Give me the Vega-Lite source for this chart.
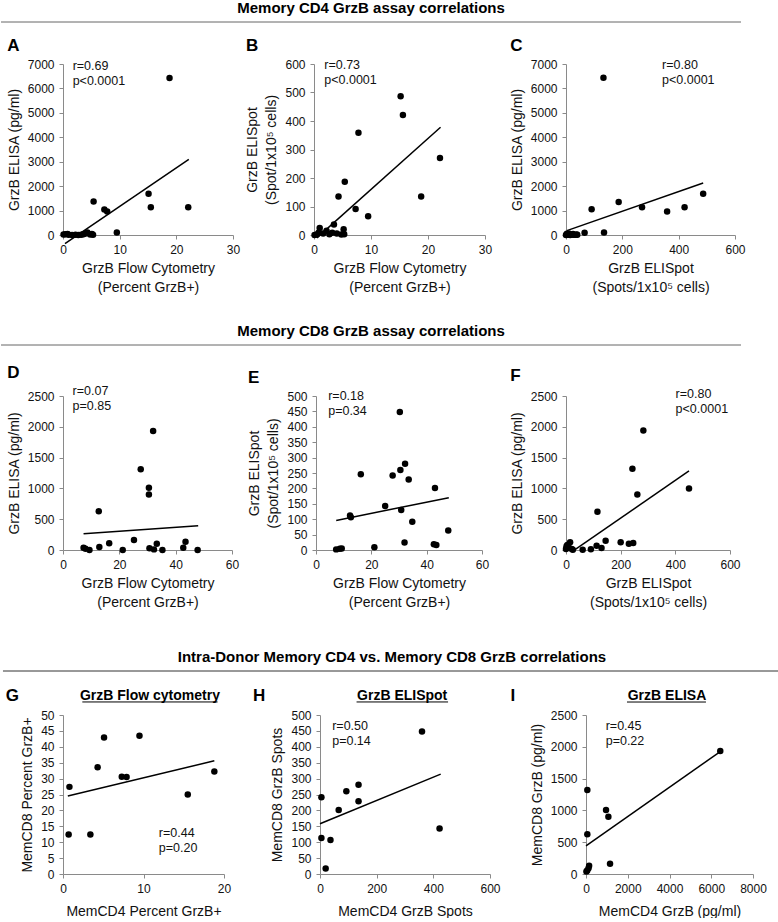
{
"$schema":"https://vega.github.io/schema/vega-lite/v6.json",
"padding":{"left":0,"top":1,"right":0,"bottom":0},
"autosize":{"type":"pad"},
"config":{
 "font":"Liberation Sans",
 "view":{"stroke":null},
 "axis":{"grid":false,"domainColor":"#8a8a8a","tickColor":"#8a8a8a","tickSize":4,"labelFontSize":12,"labelColor":"#111","labelPadding":5,"labelFlush":false,"labelOverlap":false,"titleFontSize":14,"titleFontWeight":"normal","titleColor":"#111","titlePadding":6,"titleLineHeight":19,"labelFont":"Liberation Sans","titleFont":"Liberation Sans"},
 "title":{"font":"Liberation Sans","color":"black"},
 "text":{"font":"Liberation Sans","color":"#111"}
},
"datasets":{
 "pts":[
  {"p":"A","x":18.8,"y":6430},{"p":"A","x":15.1,"y":1690},{"p":"A","x":15.5,"y":1140},{"p":"A","x":22.1,"y":1140},{"p":"A","x":5.4,"y":1370},{"p":"A","x":7.3,"y":1040},{"p":"A","x":7.8,"y":960},{"p":"A","x":9.5,"y":100},{"p":"A","x":0.1,"y":20},{"p":"A","x":0.4,"y":30},{"p":"A","x":0.8,"y":40},{"p":"A","x":1.0,"y":10},{"p":"A","x":1.6,"y":0},{"p":"A","x":2.2,"y":10},{"p":"A","x":2.7,"y":0},{"p":"A","x":3.2,"y":10},{"p":"A","x":3.6,"y":30},{"p":"A","x":4.0,"y":60},{"p":"A","x":4.3,"y":100},{"p":"A","x":4.8,"y":20},{"p":"A","x":5.1,"y":40},{"p":"A","x":5.3,"y":10},
  {"p":"B","x":15.2,"y":487},{"p":"B","x":15.6,"y":421},{"p":"B","x":7.8,"y":359},{"p":"B","x":22.1,"y":270},{"p":"B","x":18.8,"y":135},{"p":"B","x":5.4,"y":187},{"p":"B","x":4.3,"y":135},{"p":"B","x":7.3,"y":91},{"p":"B","x":9.5,"y":66},{"p":"B","x":3.5,"y":37},{"p":"B","x":1.0,"y":25},{"p":"B","x":5.2,"y":20},{"p":"B","x":0.1,"y":0},{"p":"B","x":0.5,"y":2},{"p":"B","x":0.8,"y":8},{"p":"B","x":1.6,"y":5},{"p":"B","x":2.2,"y":15},{"p":"B","x":2.7,"y":3},{"p":"B","x":3.2,"y":8},{"p":"B","x":4.0,"y":5},{"p":"B","x":4.8,"y":2},{"p":"B","x":5.3,"y":3},
  {"p":"C","x":133,"y":6440},{"p":"C","x":487,"y":1690},{"p":"C","x":421,"y":1140},{"p":"C","x":270,"y":1140},{"p":"C","x":359,"y":960},{"p":"C","x":187,"y":1350},{"p":"C","x":91,"y":1050},{"p":"C","x":135,"y":100},{"p":"C","x":66,"y":90},{"p":"C","x":37,"y":20},{"p":"C","x":25,"y":40},{"p":"C","x":20,"y":10},{"p":"C","x":10,"y":60},{"p":"C","x":0,"y":0},{"p":"C","x":5,"y":20},{"p":"C","x":15,"y":0},{"p":"C","x":30,"y":5},{"p":"C","x":3,"y":50},{"p":"C","x":8,"y":5},{"p":"C","x":40,"y":10},
  {"p":"D","x":32,"y":1930},{"p":"D","x":27.6,"y":1310},{"p":"D","x":30.5,"y":1010},{"p":"D","x":30.5,"y":900},{"p":"D","x":12.7,"y":630},{"p":"D","x":7.3,"y":38},{"p":"D","x":8.0,"y":20},{"p":"D","x":9.4,"y":0},{"p":"D","x":12.9,"y":48},{"p":"D","x":16.4,"y":108},{"p":"D","x":21.2,"y":0},{"p":"D","x":25.2,"y":161},{"p":"D","x":30.7,"y":27},{"p":"D","x":33.3,"y":102},{"p":"D","x":32.3,"y":10},{"p":"D","x":35.3,"y":0},{"p":"D","x":42.7,"y":38},{"p":"D","x":43.5,"y":134},{"p":"D","x":47.8,"y":0},
  {"p":"E","x":30.3,"y":448},{"p":"E","x":32.2,"y":280},{"p":"E","x":30.5,"y":260},{"p":"E","x":27.7,"y":242},{"p":"E","x":16.2,"y":246},{"p":"E","x":33.5,"y":229},{"p":"E","x":43,"y":201},{"p":"E","x":25,"y":143},{"p":"E","x":12.3,"y":112},{"p":"E","x":12.6,"y":106},{"p":"E","x":30.8,"y":130},{"p":"E","x":34.8,"y":92},{"p":"E","x":47.8,"y":63},{"p":"E","x":32,"y":24},{"p":"E","x":42.6,"y":19},{"p":"E","x":43.5,"y":16},{"p":"E","x":21.1,"y":9},{"p":"E","x":7.3,"y":2},{"p":"E","x":8.6,"y":4},{"p":"E","x":9.3,"y":5},
  {"p":"F","x":0,"y":16},{"p":"F","x":2,"y":60},{"p":"F","x":5,"y":80},{"p":"F","x":10,"y":40},{"p":"F","x":15,"y":124},{"p":"F","x":21,"y":16},{"p":"F","x":25,"y":5},{"p":"F","x":61,"y":5},{"p":"F","x":91,"y":11},{"p":"F","x":112,"y":70},{"p":"F","x":130,"y":32},{"p":"F","x":145,"y":150},{"p":"F","x":200,"y":124},{"p":"F","x":230,"y":100},{"p":"F","x":246,"y":115},{"p":"F","x":115,"y":620},{"p":"F","x":243,"y":1320},{"p":"F","x":283,"y":1940},{"p":"F","x":261,"y":900},{"p":"F","x":450,"y":1000},
  {"p":"G","x":0.8,"y":27.4},{"p":"G","x":0.7,"y":12.4},{"p":"G","x":3.4,"y":12.4},{"p":"G","x":4.3,"y":33.6},{"p":"G","x":5.1,"y":42.9},{"p":"G","x":9.5,"y":43.5},{"p":"G","x":7.3,"y":30.6},{"p":"G","x":7.9,"y":30.5},{"p":"G","x":15.5,"y":25},{"p":"G","x":18.8,"y":32.2},
  {"p":"H","x":360,"y":448},{"p":"H","x":136,"y":281},{"p":"H","x":93,"y":260},{"p":"H","x":136,"y":229},{"p":"H","x":66,"y":201},{"p":"H","x":5,"y":241},{"p":"H","x":5,"y":113},{"p":"H","x":37,"y":107},{"p":"H","x":20,"y":17},{"p":"H","x":422,"y":143},
  {"p":"I","x":6432,"y":1933},{"p":"I","x":64,"y":1320},{"p":"I","x":64,"y":624},{"p":"I","x":960,"y":1005},{"p":"I","x":1072,"y":900},{"p":"I","x":1152,"y":160},{"p":"I","x":150,"y":130},{"p":"I","x":120,"y":90},{"p":"I","x":60,"y":55},{"p":"I","x":20,"y":40}
 ],
 "fit":[
  {"p":"A","x":0.35,"y":-354},{"p":"A","x":22.2,"y":3100},
  {"p":"B","x":0.5,"y":-10},{"p":"B","x":22.2,"y":378},
  {"p":"C","x":3,"y":180},{"p":"C","x":487,"y":2130},
  {"p":"D","x":7.3,"y":265},{"p":"D","x":48,"y":392},
  {"p":"E","x":7.3,"y":96},{"p":"E","x":48,"y":170},
  {"p":"F","x":25,"y":-20},{"p":"F","x":450,"y":1285},
  {"p":"G","x":0.6,"y":24.5},{"p":"G","x":18.8,"y":35.6},
  {"p":"H","x":0,"y":158},{"p":"H","x":426,"y":314},
  {"p":"I","x":0,"y":443},{"p":"I","x":6432,"y":1925}
 ]
},
"concat":[
 {"concat":[
  {"concat":[
   {"width":678,"height":1,"data":{"values":[{}]},
    "title":{"text":"Memory CD4 GrzB assay correlations","fontSize":15,"fontWeight":"bold","anchor":"middle","frame":"bounds","offset":5},
    "mark":{"type":"rule","color":"#666","strokeWidth":1},
    "encoding":{"x":{"datum":-0.0914,"type":"quantitative","scale":{"domain":[0,1]},"axis":null},"x2":{"datum":1},"y":{"datum":0,"type":"quantitative","scale":{"domain":[0,1]},"axis":null}}},
   {"hconcat":[
    {"width":170,"height":171,
     "title":{"text":"A","anchor":"start","frame":"bounds","fontSize":17,"fontWeight":"bold","offset":3},
     "layer":[
      {"data":{"name":"fit"},"transform":[{"filter":"datum.p==='A'"}],"mark":{"type":"line","color":"black","strokeWidth":1.5},
       "encoding":{"x":{"field":"x","type":"quantitative","scale":{"domain":[0,30],"nice":false},"axis":{"values":[0,10,20,30],"format":"d","title":["GrzB Flow Cytometry","(Percent GrzB+)"]}},
                   "y":{"field":"y","type":"quantitative","scale":{"domain":[0,7000],"nice":false},"axis":{"values":[0,1000,2000,3000,4000,5000,6000,7000],"format":"d","title":"GrzB ELISA (pg/ml)"}}}},
      {"data":{"name":"pts"},"transform":[{"filter":"datum.p==='A'"}],"mark":{"type":"circle","size":42,"color":"black","opacity":1},
       "encoding":{"x":{"field":"x","type":"quantitative","axis":{"values":[0,10,20,30],"format":"d","title":["GrzB Flow Cytometry","(Percent GrzB+)"]}},
                   "y":{"field":"y","type":"quantitative","axis":{"values":[0,1000,2000,3000,4000,5000,6000,7000],"format":"d","title":"GrzB ELISA (pg/ml)"}}}},
      {"data":{"values":[{}]},"mark":{"type":"text","align":"left","baseline":"top","fontSize":12.5,"lineHeight":15},
       "encoding":{"x":{"datum":1.7,"type":"quantitative","axis":{"values":[0,10,20,30],"format":"d","title":["GrzB Flow Cytometry","(Percent GrzB+)"]}},
                   "y":{"datum":7160,"type":"quantitative","axis":{"values":[0,1000,2000,3000,4000,5000,6000,7000],"format":"d","title":"GrzB ELISA (pg/ml)"}},"text":{"value":["r=0.69","p<0.0001"]}}}
     ]},
    {"width":171,"height":171,
     "title":{"text":"B","anchor":"start","frame":"bounds","fontSize":17,"fontWeight":"bold","offset":3},
     "layer":[
      {"data":{"name":"fit"},"transform":[{"filter":"datum.p==='B'"}],"mark":{"type":"line","color":"black","strokeWidth":1.5},
       "encoding":{"x":{"field":"x","type":"quantitative","scale":{"domain":[0,30],"nice":false},"axis":{"values":[0,10,20,30],"format":"d","title":["GrzB Flow Cytometry","(Percent GrzB+)"]}},
                   "y":{"field":"y","type":"quantitative","scale":{"domain":[0,600],"nice":false},"axis":{"values":[0,100,200,300,400,500,600],"format":"d","title":["GrzB ELISpot","(Spot/1x10⁵ cells)"]}}}},
      {"data":{"name":"pts"},"transform":[{"filter":"datum.p==='B'"}],"mark":{"type":"circle","size":42,"color":"black","opacity":1},
       "encoding":{"x":{"field":"x","type":"quantitative","axis":{"values":[0,10,20,30],"format":"d","title":["GrzB Flow Cytometry","(Percent GrzB+)"]}},
                   "y":{"field":"y","type":"quantitative","axis":{"values":[0,100,200,300,400,500,600],"format":"d","title":["GrzB ELISpot","(Spot/1x10⁵ cells)"]}}}},
      {"data":{"values":[{}]},"mark":{"type":"text","align":"left","baseline":"top","fontSize":12.5,"lineHeight":15},
       "encoding":{"x":{"datum":1.8,"type":"quantitative","axis":{"values":[0,10,20,30],"format":"d","title":["GrzB Flow Cytometry","(Percent GrzB+)"]}},
                   "y":{"datum":619,"type":"quantitative","axis":{"values":[0,100,200,300,400,500,600],"format":"d","title":["GrzB ELISpot","(Spot/1x10⁵ cells)"]}},"text":{"value":["r=0.73","p<0.0001"]}}}
     ]},
    {"width":169,"height":171,
     "title":{"text":"C","anchor":"start","frame":"bounds","fontSize":17,"fontWeight":"bold","offset":3},
     "layer":[
      {"data":{"name":"fit"},"transform":[{"filter":"datum.p==='C'"}],"mark":{"type":"line","color":"black","strokeWidth":1.5},
       "encoding":{"x":{"field":"x","type":"quantitative","scale":{"domain":[0,600],"nice":false},"axis":{"values":[0,200,400,600],"format":"d","title":["GrzB ELISpot","(Spots/1x10⁵ cells)"]}},
                   "y":{"field":"y","type":"quantitative","scale":{"domain":[0,7000],"nice":false},"axis":{"values":[0,1000,2000,3000,4000,5000,6000,7000],"format":"d","title":"GrzB ELISA (pg/ml)"}}}},
      {"data":{"name":"pts"},"transform":[{"filter":"datum.p==='C'"}],"mark":{"type":"circle","size":42,"color":"black","opacity":1},
       "encoding":{"x":{"field":"x","type":"quantitative","axis":{"values":[0,200,400,600],"format":"d","title":["GrzB ELISpot","(Spots/1x10⁵ cells)"]}},
                   "y":{"field":"y","type":"quantitative","axis":{"values":[0,1000,2000,3000,4000,5000,6000,7000],"format":"d","title":"GrzB ELISA (pg/ml)"}}}},
      {"data":{"values":[{}]},"mark":{"type":"text","align":"left","baseline":"top","fontSize":12.5,"lineHeight":15},
       "encoding":{"x":{"datum":341,"type":"quantitative","axis":{"values":[0,200,400,600],"format":"d","title":["GrzB ELISpot","(Spots/1x10⁵ cells)"]}},
                   "y":{"datum":7208,"type":"quantitative","axis":{"values":[0,1000,2000,3000,4000,5000,6000,7000],"format":"d","title":"GrzB ELISA (pg/ml)"}},"text":{"value":["r=0.80","p<0.0001"]}}}
     ]}
   ],"bounds":"flush","spacing":81}
  ],"columns":1,"align":"none","spacing":14},
  {"concat":[
   {"width":678,"height":1,"data":{"values":[{}]},
    "title":{"text":"Memory CD8 GrzB assay correlations","fontSize":15,"fontWeight":"bold","anchor":"middle","frame":"bounds","offset":5},
    "mark":{"type":"rule","color":"#666","strokeWidth":1},
    "encoding":{"x":{"datum":-0.0914,"type":"quantitative","scale":{"domain":[0,1]},"axis":null},"x2":{"datum":1},"y":{"datum":0,"type":"quantitative","scale":{"domain":[0,1]},"axis":null}}},
   {"hconcat":[
    {"width":169,"height":154,
     "title":{"text":"D","anchor":"start","frame":"bounds","fontSize":17,"fontWeight":"bold","offset":3},
     "layer":[
      {"data":{"name":"fit"},"transform":[{"filter":"datum.p==='D'"}],"mark":{"type":"line","color":"black","strokeWidth":1.5},
       "encoding":{"x":{"field":"x","type":"quantitative","scale":{"domain":[0,60],"nice":false},"axis":{"values":[0,20,40,60],"format":"d","title":["GrzB Flow Cytometry","(Percent GrzB+)"]}},
                   "y":{"field":"y","type":"quantitative","scale":{"domain":[0,2500],"nice":false},"axis":{"values":[0,500,1000,1500,2000,2500],"format":"d","title":"GrzB ELISA (pg/ml)"}}}},
      {"data":{"name":"pts"},"transform":[{"filter":"datum.p==='D'"}],"mark":{"type":"circle","size":42,"color":"black","opacity":1},
       "encoding":{"x":{"field":"x","type":"quantitative","axis":{"values":[0,20,40,60],"format":"d","title":["GrzB Flow Cytometry","(Percent GrzB+)"]}},
                   "y":{"field":"y","type":"quantitative","axis":{"values":[0,500,1000,1500,2000,2500],"format":"d","title":"GrzB ELISA (pg/ml)"}}}},
      {"data":{"values":[{}]},"mark":{"type":"text","align":"left","baseline":"top","fontSize":12.5,"lineHeight":15},
       "encoding":{"x":{"datum":3.4,"type":"quantitative","axis":{"values":[0,20,40,60],"format":"d","title":["GrzB Flow Cytometry","(Percent GrzB+)"]}},
                   "y":{"datum":2678,"type":"quantitative","axis":{"values":[0,500,1000,1500,2000,2500],"format":"d","title":"GrzB ELISA (pg/ml)"}},"text":{"value":["r=0.07","p=0.85"]}}}
     ]},
    {"width":166,"height":154,
     "title":{"text":"E","anchor":"start","frame":"bounds","fontSize":17,"fontWeight":"bold","offset":3},
     "layer":[
      {"data":{"name":"fit"},"transform":[{"filter":"datum.p==='E'"}],"mark":{"type":"line","color":"black","strokeWidth":1.5},
       "encoding":{"x":{"field":"x","type":"quantitative","scale":{"domain":[0,60],"nice":false},"axis":{"values":[0,20,40,60],"format":"d","title":["GrzB Flow Cytometry","(Percent GrzB+)"]}},
                   "y":{"field":"y","type":"quantitative","scale":{"domain":[0,500],"nice":false},"axis":{"values":[0,50,100,150,200,250,300,350,400,450,500],"format":"d","title":["GrzB ELISpot","(Spot/1x10⁵ cells)"]}}}},
      {"data":{"name":"pts"},"transform":[{"filter":"datum.p==='E'"}],"mark":{"type":"circle","size":42,"color":"black","opacity":1},
       "encoding":{"x":{"field":"x","type":"quantitative","axis":{"values":[0,20,40,60],"format":"d","title":["GrzB Flow Cytometry","(Percent GrzB+)"]}},
                   "y":{"field":"y","type":"quantitative","axis":{"values":[0,50,100,150,200,250,300,350,400,450,500],"format":"d","title":["GrzB ELISpot","(Spot/1x10⁵ cells)"]}}}},
      {"data":{"values":[{}]},"mark":{"type":"text","align":"left","baseline":"top","fontSize":12.5,"lineHeight":15},
       "encoding":{"x":{"datum":4.4,"type":"quantitative","axis":{"values":[0,20,40,60],"format":"d","title":["GrzB Flow Cytometry","(Percent GrzB+)"]}},
                   "y":{"datum":519,"type":"quantitative","axis":{"values":[0,50,100,150,200,250,300,350,400,450,500],"format":"d","title":["GrzB ELISpot","(Spot/1x10⁵ cells)"]}},"text":{"value":["r=0.18","p=0.34"]}}}
     ]},
    {"width":164,"height":154,
     "title":{"text":"F","anchor":"start","frame":"bounds","fontSize":17,"fontWeight":"bold","offset":3},
     "layer":[
      {"data":{"name":"fit"},"transform":[{"filter":"datum.p==='F'"}],"mark":{"type":"line","color":"black","strokeWidth":1.5},
       "encoding":{"x":{"field":"x","type":"quantitative","scale":{"domain":[0,600],"nice":false},"axis":{"values":[0,200,400,600],"format":"d","title":["GrzB ELISpot","(Spots/1x10⁵ cells)"]}},
                   "y":{"field":"y","type":"quantitative","scale":{"domain":[0,2500],"nice":false},"axis":{"values":[0,500,1000,1500,2000,2500],"format":"d","title":"GrzB ELISA (pg/ml)"}}}},
      {"data":{"name":"pts"},"transform":[{"filter":"datum.p==='F'"}],"mark":{"type":"circle","size":42,"color":"black","opacity":1},
       "encoding":{"x":{"field":"x","type":"quantitative","axis":{"values":[0,200,400,600],"format":"d","title":["GrzB ELISpot","(Spots/1x10⁵ cells)"]}},
                   "y":{"field":"y","type":"quantitative","axis":{"values":[0,500,1000,1500,2000,2500],"format":"d","title":"GrzB ELISA (pg/ml)"}}}},
      {"data":{"values":[{}]},"mark":{"type":"text","align":"left","baseline":"top","fontSize":12.5,"lineHeight":15},
       "encoding":{"x":{"datum":401,"type":"quantitative","axis":{"values":[0,200,400,600],"format":"d","title":["GrzB ELISpot","(Spots/1x10⁵ cells)"]}},
                   "y":{"datum":2635,"type":"quantitative","axis":{"values":[0,500,1000,1500,2000,2500],"format":"d","title":"GrzB ELISA (pg/ml)"}},"text":{"value":["r=0.80","p<0.0001"]}}}
     ]}
   ],"bounds":"flush","spacing":84}
  ],"columns":1,"align":"none","spacing":18}
 ],"columns":1,"align":"none","spacing":30},
 {"concat":[
  {"width":718,"height":1,"data":{"values":[{}]},
   "title":{"text":"Intra-Donor Memory CD4 vs. Memory CD8 GrzB correlations","fontSize":15,"fontWeight":"bold","anchor":"middle","frame":"bounds","offset":5},
   "mark":{"type":"rule","color":"#333","strokeWidth":1},
   "encoding":{"x":{"datum":-0.0836,"type":"quantitative","scale":{"domain":[0,1]},"axis":null},"x2":{"datum":1},"y":{"datum":0,"type":"quantitative","scale":{"domain":[0,1]},"axis":null}}},
  {"hconcat":[
   {"width":161,"height":159,
    "layer":[
     {"data":{"name":"fit"},"transform":[{"filter":"datum.p==='G'"}],"mark":{"type":"line","color":"black","strokeWidth":1.5},
      "encoding":{"x":{"field":"x","type":"quantitative","scale":{"domain":[0,20],"nice":false},"axis":{"values":[0,10,20],"format":"d","title":"MemCD4 Percent GrzB+","titlePadding":10}},
                  "y":{"field":"y","type":"quantitative","scale":{"domain":[0,50],"nice":false},"axis":{"values":[0,5,10,15,20,25,30,35,40,45,50],"format":"d","title":"MemCD8 Percent GrzB+"}}}},
     {"data":{"name":"pts"},"transform":[{"filter":"datum.p==='G'"}],"mark":{"type":"circle","size":42,"color":"black","opacity":1},
      "encoding":{"x":{"field":"x","type":"quantitative","axis":{"values":[0,10,20],"format":"d","title":"MemCD4 Percent GrzB+","titlePadding":10}},
                  "y":{"field":"y","type":"quantitative","axis":{"values":[0,5,10,15,20,25,30,35,40,45,50],"format":"d","title":"MemCD8 Percent GrzB+"}}}},
     {"data":{"values":[{}]},"mark":{"type":"text","align":"left","baseline":"top","fontSize":12.5,"lineHeight":15},
      "encoding":{"x":{"datum":11.9,"type":"quantitative","axis":{"values":[0,10,20],"format":"d","title":"MemCD4 Percent GrzB+","titlePadding":10}},
                  "y":{"datum":14.9,"type":"quantitative","axis":{"values":[0,5,10,15,20,25,30,35,40,45,50],"format":"d","title":"MemCD8 Percent GrzB+"}},"text":{"value":["r=0.44","p=0.20"]}}},
     {"data":{"values":[{}]},"mark":{"type":"text","align":"center","baseline":"middle","fontSize":17,"fontWeight":"bold","color":"black"},
      "encoding":{"x":{"datum":-6.3,"type":"quantitative","axis":{"values":[0,10,20],"format":"d","title":"MemCD4 Percent GrzB+","titlePadding":10}},
                  "y":{"datum":56,"type":"quantitative","axis":{"values":[0,5,10,15,20,25,30,35,40,45,50],"format":"d","title":"MemCD8 Percent GrzB+"}},"text":{"value":"G"}}},
     {"data":{"values":[{}]},"mark":{"type":"text","align":"center","baseline":"middle","fontSize":14,"fontWeight":"bold","color":"black"},
      "encoding":{"x":{"datum":10.8,"type":"quantitative","axis":{"values":[0,10,20],"format":"d","title":"MemCD4 Percent GrzB+","titlePadding":10}},
                  "y":{"datum":56,"type":"quantitative","axis":{"values":[0,5,10,15,20,25,30,35,40,45,50],"format":"d","title":"MemCD8 Percent GrzB+"}},"text":{"value":"GrzB Flow cytometry"}}},
     {"data":{"values":[{}]},"mark":{"type":"rule","color":"black","strokeWidth":1},
      "encoding":{"x":{"datum":2.4,"type":"quantitative","axis":{"values":[0,10,20],"format":"d","title":"MemCD4 Percent GrzB+","titlePadding":10}},"x2":{"datum":19.2},
                  "y":{"datum":54.1,"type":"quantitative","axis":{"values":[0,5,10,15,20,25,30,35,40,45,50],"format":"d","title":"MemCD8 Percent GrzB+"}}}}
    ]},
   {"width":170,"height":159,
    "layer":[
     {"data":{"name":"fit"},"transform":[{"filter":"datum.p==='H'"}],"mark":{"type":"line","color":"black","strokeWidth":1.5},
      "encoding":{"x":{"field":"x","type":"quantitative","scale":{"domain":[0,600],"nice":false},"axis":{"values":[0,200,400,600],"format":"d","title":"MemCD4 GrzB Spots","titlePadding":10}},
                  "y":{"field":"y","type":"quantitative","scale":{"domain":[0,500],"nice":false},"axis":{"values":[0,50,100,150,200,250,300,350,400,450,500],"format":"d","title":"MemCD8 GrzB Spots"}}}},
     {"data":{"name":"pts"},"transform":[{"filter":"datum.p==='H'"}],"mark":{"type":"circle","size":42,"color":"black","opacity":1},
      "encoding":{"x":{"field":"x","type":"quantitative","axis":{"values":[0,200,400,600],"format":"d","title":"MemCD4 GrzB Spots","titlePadding":10}},
                  "y":{"field":"y","type":"quantitative","axis":{"values":[0,50,100,150,200,250,300,350,400,450,500],"format":"d","title":"MemCD8 GrzB Spots"}}}},
     {"data":{"values":[{}]},"mark":{"type":"text","align":"left","baseline":"top","fontSize":12.5,"lineHeight":15},
      "encoding":{"x":{"datum":43,"type":"quantitative","axis":{"values":[0,200,400,600],"format":"d","title":"MemCD4 GrzB Spots","titlePadding":10}},
                  "y":{"datum":484,"type":"quantitative","axis":{"values":[0,50,100,150,200,250,300,350,400,450,500],"format":"d","title":"MemCD8 GrzB Spots"}},"text":{"value":["r=0.50","p=0.14"]}}},
     {"data":{"values":[{}]},"mark":{"type":"text","align":"center","baseline":"middle","fontSize":17,"fontWeight":"bold","color":"black"},
      "encoding":{"x":{"datum":-215,"type":"quantitative","axis":{"values":[0,200,400,600],"format":"d","title":"MemCD4 GrzB Spots","titlePadding":10}},
                  "y":{"datum":560,"type":"quantitative","axis":{"values":[0,50,100,150,200,250,300,350,400,450,500],"format":"d","title":"MemCD8 GrzB Spots"}},"text":{"value":"H"}}},
     {"data":{"values":[{}]},"mark":{"type":"text","align":"center","baseline":"middle","fontSize":14,"fontWeight":"bold","color":"black"},
      "encoding":{"x":{"datum":290,"type":"quantitative","axis":{"values":[0,200,400,600],"format":"d","title":"MemCD4 GrzB Spots","titlePadding":10}},
                  "y":{"datum":560,"type":"quantitative","axis":{"values":[0,50,100,150,200,250,300,350,400,450,500],"format":"d","title":"MemCD8 GrzB Spots"}},"text":{"value":"GrzB ELISpot"}}},
     {"data":{"values":[{}]},"mark":{"type":"rule","color":"black","strokeWidth":1},
      "encoding":{"x":{"datum":129,"type":"quantitative","axis":{"values":[0,200,400,600],"format":"d","title":"MemCD4 GrzB Spots","titlePadding":10}},"x2":{"datum":452},
                  "y":{"datum":541,"type":"quantitative","axis":{"values":[0,50,100,150,200,250,300,350,400,450,500],"format":"d","title":"MemCD8 GrzB Spots"}}}}
    ]},
   {"width":167,"height":159,
    "layer":[
     {"data":{"name":"fit"},"transform":[{"filter":"datum.p==='I'"}],"mark":{"type":"line","color":"black","strokeWidth":1.5},
      "encoding":{"x":{"field":"x","type":"quantitative","scale":{"domain":[0,8000],"nice":false},"axis":{"values":[0,2000,4000,6000,8000],"format":"d","title":"MemCD4 GrzB (pg/ml)","titlePadding":10}},
                  "y":{"field":"y","type":"quantitative","scale":{"domain":[0,2500],"nice":false},"axis":{"values":[0,500,1000,1500,2000,2500],"format":"d","title":"MemCD8 GrzB (pg/ml)"}}}},
     {"data":{"name":"pts"},"transform":[{"filter":"datum.p==='I'"}],"mark":{"type":"circle","size":42,"color":"black","opacity":1},
      "encoding":{"x":{"field":"x","type":"quantitative","axis":{"values":[0,2000,4000,6000,8000],"format":"d","title":"MemCD4 GrzB (pg/ml)","titlePadding":10}},
                  "y":{"field":"y","type":"quantitative","axis":{"values":[0,500,1000,1500,2000,2500],"format":"d","title":"MemCD8 GrzB (pg/ml)"}}}},
     {"data":{"values":[{}]},"mark":{"type":"text","align":"left","baseline":"top","fontSize":12.5,"lineHeight":15},
      "encoding":{"x":{"datum":943,"type":"quantitative","axis":{"values":[0,2000,4000,6000,8000],"format":"d","title":"MemCD4 GrzB (pg/ml)","titlePadding":10}},
                  "y":{"datum":2421,"type":"quantitative","axis":{"values":[0,500,1000,1500,2000,2500],"format":"d","title":"MemCD8 GrzB (pg/ml)"}},"text":{"value":["r=0.45","p=0.22"]}}},
     {"data":{"values":[{}]},"mark":{"type":"text","align":"center","baseline":"middle","fontSize":17,"fontWeight":"bold","color":"black"},
      "encoding":{"x":{"datum":-3500,"type":"quantitative","axis":{"values":[0,2000,4000,6000,8000],"format":"d","title":"MemCD4 GrzB (pg/ml)","titlePadding":10}},
                  "y":{"datum":2800,"type":"quantitative","axis":{"values":[0,500,1000,1500,2000,2500],"format":"d","title":"MemCD8 GrzB (pg/ml)"}},"text":{"value":"I"}}},
     {"data":{"values":[{}]},"mark":{"type":"text","align":"center","baseline":"middle","fontSize":14,"fontWeight":"bold","color":"black"},
      "encoding":{"x":{"datum":3880,"type":"quantitative","axis":{"values":[0,2000,4000,6000,8000],"format":"d","title":"MemCD4 GrzB (pg/ml)","titlePadding":10}},
                  "y":{"datum":2800,"type":"quantitative","axis":{"values":[0,500,1000,1500,2000,2500],"format":"d","title":"MemCD8 GrzB (pg/ml)"}},"text":{"value":"GrzB ELISA"}}},
     {"data":{"values":[{}]},"mark":{"type":"rule","color":"black","strokeWidth":1},
      "encoding":{"x":{"datum":1964,"type":"quantitative","axis":{"values":[0,2000,4000,6000,8000],"format":"d","title":"MemCD4 GrzB (pg/ml)","titlePadding":10}},"x2":{"datum":5747},
                  "y":{"datum":2704,"type":"quantitative","axis":{"values":[0,500,1000,1500,2000,2500],"format":"d","title":"MemCD8 GrzB (pg/ml)"}}}}
    ]}
  ],"bounds":"flush","spacing":96}
 ],"columns":1,"align":"none","spacing":14}
],"columns":1,"align":"none","spacing":41
}
